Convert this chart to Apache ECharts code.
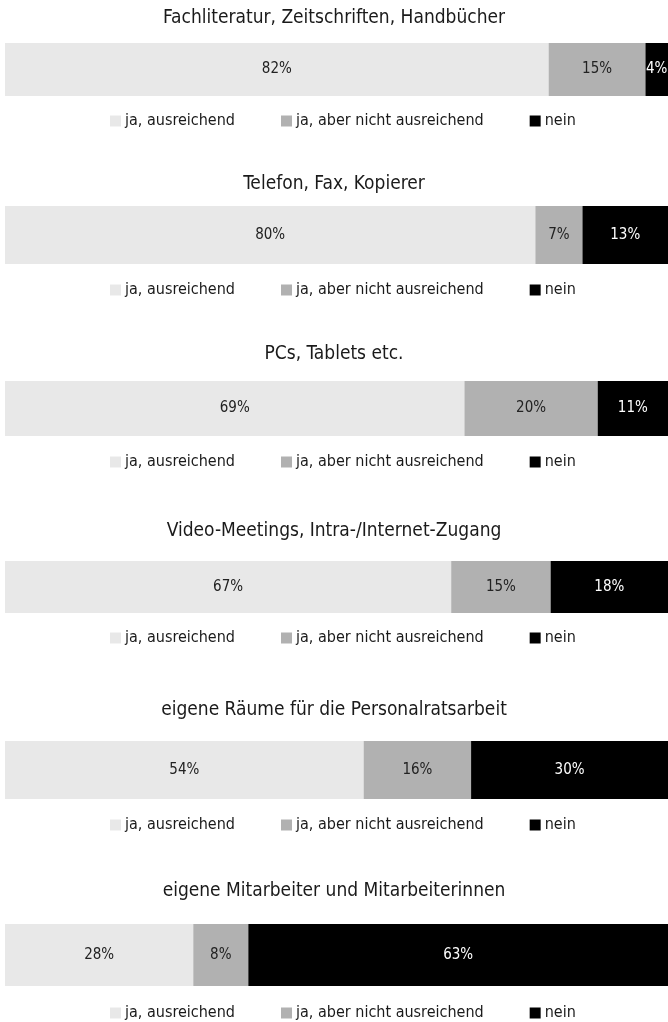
<!DOCTYPE html>
<html>
<head>
<meta charset="utf-8">
<script src="https://cdn.jsdelivr.net/npm/echarts@6/dist/echarts.min.js"></script>
<style>
html,body{margin:0;padding:0;background:#fff;}
#chart{width:668px;height:1022px;}
</style>
</head>
<body>
<div id="chart"></div>
<script>
// ---- data ----
const panelTitles = [
  'Fachliteratur, Zeitschriften, Handbücher',
  'Telefon, Fax, Kopierer',
  'PCs, Tablets etc.',
  'Video-Meetings, Intra-/Internet-Zugang',
  'eigene Räume für die Personalratsarbeit',
  'eigene Mitarbeiter und Mitarbeiterinnen'
];
const seriesNames = ['ja, ausreichend', 'ja, aber nicht ausreichend', 'nein'];
const jaAusreichend      = [82.0, 80.0, 69.3, 67.3, 54.1, 28.4];
const jaNichtAusreichend = [14.6,  7.1, 20.1, 15.0, 16.2,  8.3];
const nein               = [ 3.5, 12.9, 10.6, 17.7, 29.7, 63.3];

// ---- layout (pixels) ----
const layout = [
  {title: 19,  barTop: 43,  barH: 53, legend: 121},
  {title: 185, barTop: 206, barH: 58, legend: 290},
  {title: 355, barTop: 381, barH: 55, legend: 462},
  {title: 532, barTop: 561, barH: 52, legend: 638},
  {title: 711, barTop: 741, barH: 58, legend: 825},
  {title: 892, barTop: 924, barH: 62, legend: 1013}
];
const FONT = "'Liberation Sans Narrow', 'DejaVu Sans Condensed', 'Roboto', sans-serif";
const colors = ['#e8e8e8', '#b1b1b1', '#000000'];
const labelColors = ['#222222', '#222222', '#ffffff'];
const seriesValues = [jaAusreichend, jaNichtAusreichend, nein];

const titles = [], grids = [], xAxes = [], yAxes = [], series = [], legends = [];
panelTitles.forEach((t, i) => {
  const L = layout[i];
  titles.push({
    text: t, left: 'center', top: L.title - 10, padding: 0,
    textStyle: {fontFamily: FONT, fontSize: 19, fontWeight: 'normal', color: '#1a1a1a'}
  });
  grids.push({left: 5, width: 667, top: L.barTop, height: L.barH, containLabel: false});
  xAxes.push({type: 'value', gridIndex: i, min: 0, max: 100, show: false});
  yAxes.push({type: 'category', gridIndex: i, data: [t], show: false});
  seriesNames.forEach((n, k) => {
    series.push({
      type: 'bar', name: n, stack: 'p' + i, xAxisIndex: i, yAxisIndex: i,
      barWidth: '100%', itemStyle: {color: colors[k]},
      data: [seriesValues[k][i]],
      label: {
        show: true, position: 'inside',
        formatter: p => Math.round(p.value) + '%',
        fontFamily: FONT, fontSize: 15, color: labelColors[k]
      },
      emphasis: {disabled: true}
    });
  });
  legends.push({
    data: seriesNames, left: 110, top: L.legend - 8, padding: 0,
    itemWidth: 11, itemHeight: 11, itemGap: 46, icon: 'rect',
    selectedMode: false,
    textStyle: {fontFamily: FONT, fontSize: 16, color: '#1a1a1a', padding: [0, 0, 0, -1]}
  });
});

const chart = echarts.init(document.getElementById('chart'));
chart.setOption({
  animation: false,
  color: colors,
  title: titles,
  grid: grids,
  xAxis: xAxes,
  yAxis: yAxes,
  legend: legends,
  series: series
});
</script>
</body>
</html>
